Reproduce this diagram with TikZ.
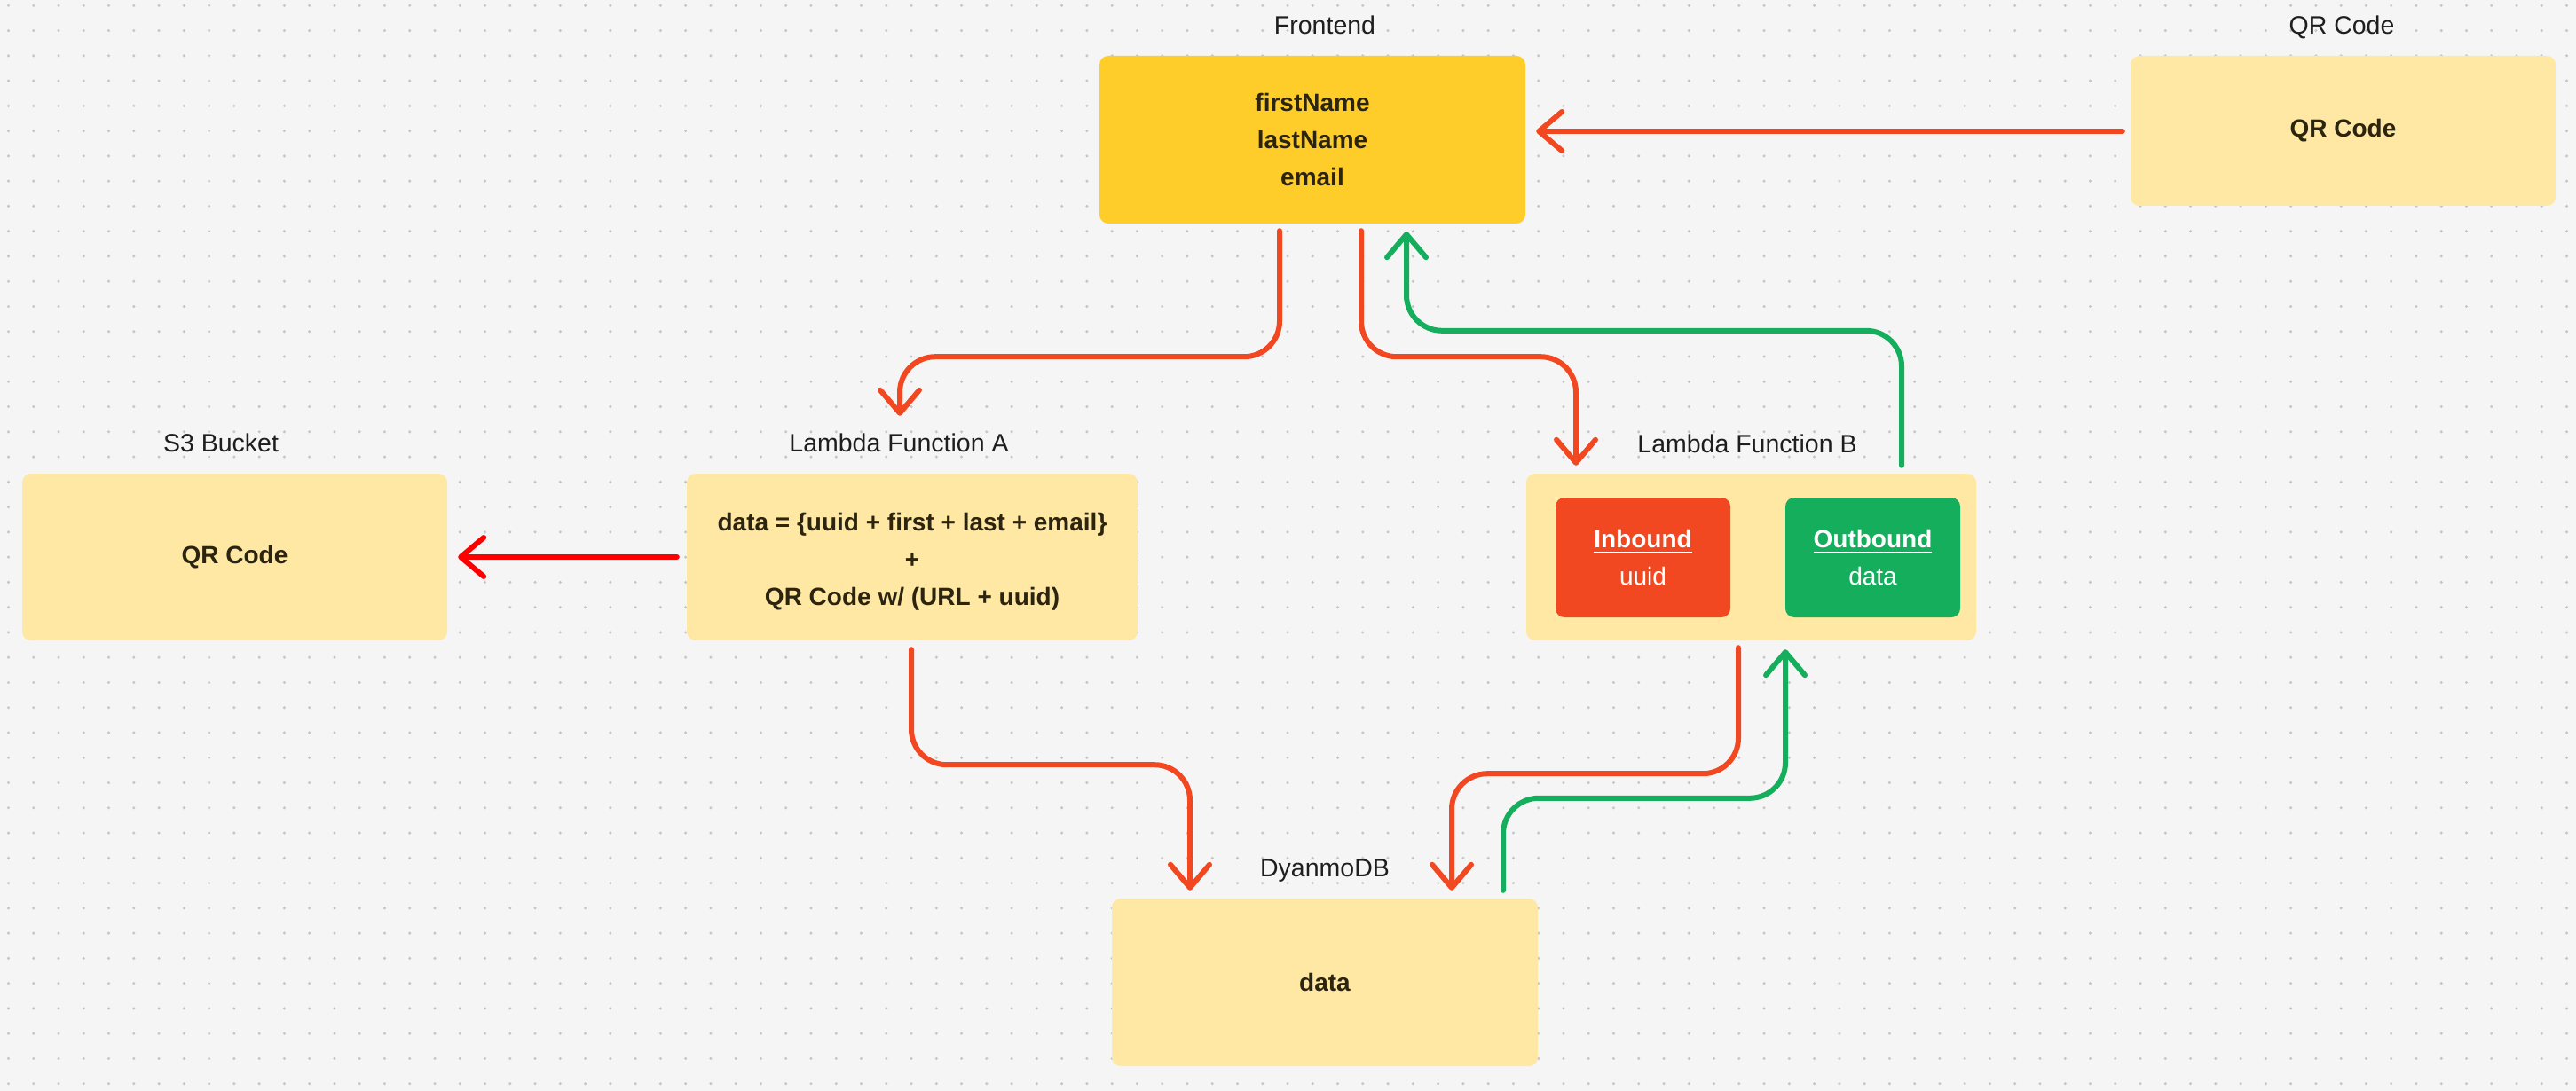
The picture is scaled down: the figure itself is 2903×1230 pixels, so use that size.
\documentclass[tikz,border=0pt]{standalone}
\usepackage{fontspec}
\setmainfont{Liberation Sans}
\usetikzlibrary{arrows.meta,calc,positioning}

\definecolor{canvas}{HTML}{F5F5F5}
\definecolor{griddot}{HTML}{C6C6C6}
\definecolor{stickyfill}{HTML}{FFE8A3}
\definecolor{frontyellow}{HTML}{FFCD29}
\definecolor{flowred}{HTML}{F24822}
\definecolor{flowgreen}{HTML}{14AE5C}
\definecolor{s3red}{HTML}{FF0000}
\definecolor{inktext}{HTML}{1E1E1E}
\definecolor{stickytext}{HTML}{2B2410}

\newcommand\ulword[1]{\setbox0\hbox{#1}\rlap{\rule[-6pt]{\wd0}{2pt}}\box0}

\tikzset{
  sticky/.style={fill=stickyfill, rounded corners=10pt, inner sep=0pt, align=center,
    text=stickytext, font=\bfseries\fontsize{28}{42}\selectfont},
  inout/.style={rounded corners=10pt, inner sep=0pt, align=center, text=white,
    minimum width=197pt, minimum height=135pt, font=\fontsize{28}{42}\selectfont},
  boxtitle/.style={anchor=base, text=inktext, font=\fontsize{28.5}{34}\selectfont},
  flow/.style={line width=6pt, line cap=round, rounded corners=40pt,
    -{Straight Barb[length=26pt,width=44pt,round]}},
}

\begin{document}
\begin{tikzpicture}[x=1pt,y=-1pt]
%% canvas with dot grid
\fill[canvas] (0,0) rectangle (2903,1230);
\foreach \i in {0,...,102}
  \foreach \j in {0,...,43}
    \fill[griddot] (9.5+28.265*\i,6.3+28.265*\j) circle (1.7pt);

%% boxes
\node[sticky, fill=frontyellow, minimum width=480pt, minimum height=189pt] (front) at (1479,157.5) {firstName\\lastName\\email};
\node[sticky, minimum width=479pt, minimum height=169pt] (qr) at (2640.5,147.5) {QR Code};
\node[sticky, minimum width=479pt, minimum height=188pt] (s3) at (264.5,628) {QR Code};
\node[sticky, minimum width=508pt, minimum height=188pt] (lama) at (1028,628) {\rule{0pt}{31pt}data = \{uuid + first + last + email\}\\+\\QR Code w/ (URL + uuid)};
\node[sticky, minimum width=507pt, minimum height=188pt] (lamb) at (1973.5,628) {};
\node[inout, fill=flowred] (inb) at (1851.5,628.5) {\textbf{\ulword{Inbound}}\\uuid};
\node[inout, fill=flowgreen] (outb) at (2110.5,628.5) {\textbf{\ulword{Outbound}}\\data};
\node[sticky, minimum width=480pt, minimum height=189pt] (dyn) at (1493,1107.5) {data};

%% titles
\node[boxtitle] (tfront) at (1493,39) {Frontend};
\node[boxtitle] (tqr) at (2639,39) {QR Code};
\node[boxtitle] (ts3) at (249,509) {S3 Bucket};
\node[boxtitle] (tlama) at (1013,509) {Lambda Function A};
\node[boxtitle] (tlamb) at (1969,510) {Lambda Function B};
\node[boxtitle] (tdyn) at (1493,988) {DyanmoDB};

%% connectors
\draw[flow, flowred] ($(qr.west)+(-9,0.5)$) -- ($(qr.west -| front.east)+(12,0.5)$);
\draw[flow, flowred] ($(front.south)+(-37,8)$) -- ++(0,142) -| ($(lama.north)+(-14,-65)$);
\draw[flow, flowred] ($(front.south)+(55,8)$) -- ++(0,142) -| ($(lamb.north)+(-197.5,-9)$);
\draw[flow, flowgreen] ($(lamb.north)+(169.5,-9)$) -- ++(0,-152) -| ($(front.south)+(106,9)$);
\draw[flow, s3red] ($(lama.west)+(-11,0)$) -- ($(s3.east)+(12,0)$);
\draw[flow, flowred] ($(lama.south)+(-1,10)$) -- ++(0,130) -| ($(dyn.north)+(-152,-9)$);
\draw[flow, flowred] ($(lamb.south)+(-14.5,8)$) -- ++(0,142) -| ($(dyn.north)+(143,-9)$);
\draw[flow, flowgreen] ($(dyn.north)+(201,-9)$) -- ++(0,-104) -| ($(lamb.south)+(38.5,10)$);
\end{tikzpicture}
\end{document}
